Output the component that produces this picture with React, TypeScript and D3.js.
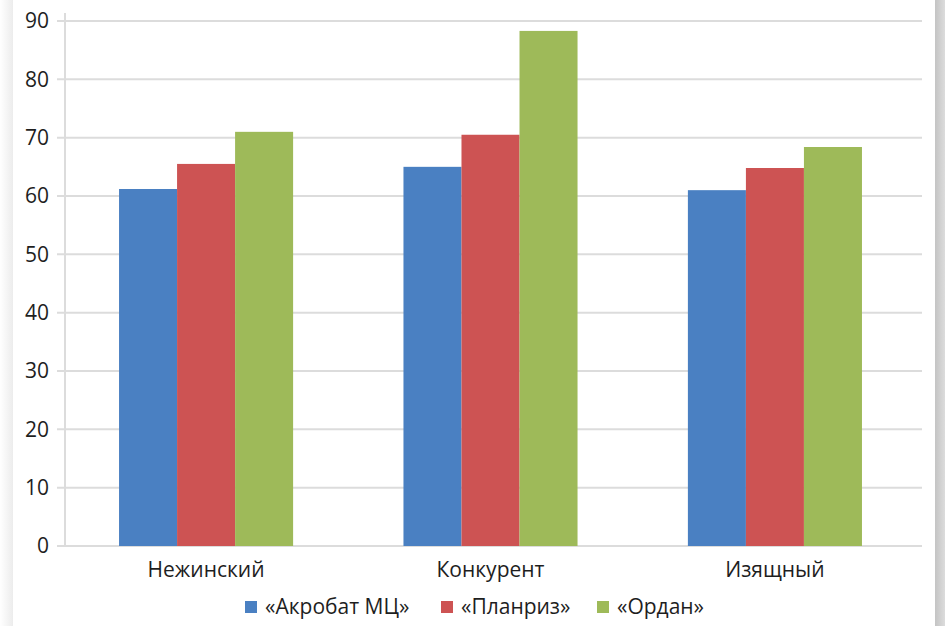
import { useRef, useEffect } from "react";
import * as d3 from "d3";

const categories = ["Нежинский", "Конкурент", "Изящный"];
const seriesNames = ["«Акробат МЦ»", "«Планриз»", "«Ордан»"];
const acrobat = [61.2, 65.0, 61.0];
const planriz = [65.5, 70.5, 64.8];
const ordan = [71.0, 88.3, 68.4];
const yTicks = [0, 10, 20, 30, 40, 50, 60, 70, 80, 90];
const colors = ["#4a80c2", "#cd5353", "#9eba59"];

const W = 945;
const H = 626;
const FONT = "'Open Sans', 'Noto Sans', sans-serif";

export default function App() {
  const svgRef = useRef<SVGSVGElement>(null);

  useEffect(() => {
    if (!svgRef.current) return;
    const svg = d3.select(svgRef.current);
    svg.selectAll("*").remove();

    const series = [acrobat, planriz, ordan];
    const margin = { top: 21, left: 65, right: 23, bottom: 80 };
    const plotW = W - margin.left - margin.right;
    const plotH = H - margin.top - margin.bottom;

    // side shadows
    const defs = svg.append("defs");
    const gl = defs.append("linearGradient").attr("id", "shL");
    gl.append("stop").attr("offset", "0%").attr("stop-color", "#ffffff");
    gl.append("stop").attr("offset", "100%").attr("stop-color", "#ececec");
    const gr = defs.append("linearGradient").attr("id", "shR");
    gr.append("stop").attr("offset", "0%").attr("stop-color", "#c4c4c4");
    gr.append("stop").attr("offset", "100%").attr("stop-color", "#dcdcdc");
    svg.append("rect").attr("x", 0).attr("y", 0).attr("width", W).attr("height", H).attr("fill", "#fff");
    svg.append("rect").attr("x", 0).attr("y", 0).attr("width", 13).attr("height", H).attr("fill", "url(#shL)");
    svg.append("rect").attr("x", 935).attr("y", 0).attr("width", 10).attr("height", H).attr("fill", "url(#shR)");

    const x0 = d3.scaleBand<string>().domain(categories).range([0, 851]).paddingInner(0.388).paddingOuter(0.19);
    const x1 = d3.scaleBand<number>().domain([0, 1, 2]).range([0, x0.bandwidth()]);
    const y = d3.scaleLinear().domain([0, 90]).range([plotH, 0]);

    const chart = svg.append("g").attr("transform", `translate(${margin.left},${margin.top})`);

    // gridlines
    chart
      .selectAll("line.grid")
      .data(yTicks)
      .enter()
      .append("line")
      .attr("x1", -8)
      .attr("x2", plotW)
      .attr("y1", (d) => y(d))
      .attr("y2", (d) => y(d))
      .attr("stroke", "#dcdcdc")
      .attr("stroke-width", 2);

    // y axis line
    chart
      .append("line")
      .attr("x1", 0)
      .attr("x2", 0)
      .attr("y1", -8)
      .attr("y2", plotH)
      .attr("stroke", "#dcdcdc")
      .attr("stroke-width", 2);

    // tick labels
    chart
      .selectAll("text.yt")
      .data(yTicks)
      .enter()
      .append("text")
      .attr("x", -16)
      .attr("y", (d) => y(d))
      .attr("dy", "0.35em")
      .attr("text-anchor", "end")
      .attr("font-family", FONT)
      .attr("font-size", 21)
      .attr("fill", "#1e1e1e")
      .text((d) => d);

    // bars
    const groups = chart
      .selectAll("g.cat")
      .data(categories)
      .enter()
      .append("g")
      .attr("transform", (d) => `translate(${x0(d)},0)`);

    groups
      .selectAll("rect")
      .data((_, i) => series.map((s, k) => ({ k, v: s[i] })))
      .enter()
      .append("rect")
      .attr("x", (d) => x1(d.k) as number)
      .attr("y", (d) => y(d.v))
      .attr("width", x1.bandwidth())
      .attr("height", (d) => plotH - y(d.v))
      .attr("fill", (d) => colors[d.k]);

    // category labels
    chart
      .selectAll("text.cat")
      .data(categories)
      .enter()
      .append("text")
      .attr("x", (d) => (x0(d) as number) + x0.bandwidth() / 2)
      .attr("y", plotH + 31)
      .attr("text-anchor", "middle")
      .attr("font-family", FONT)
      .attr("font-size", 21)
      .attr("fill", "#1e1e1e")
      .text((d) => d);

    // legend
    const legendX = [245, 441, 597];
    const leg = svg
      .selectAll("g.leg")
      .data(seriesNames)
      .enter()
      .append("g")
      .attr("transform", (_, i) => `translate(${legendX[i]},601)`);
    leg.append("rect").attr("width", 12).attr("height", 12).attr("fill", (_, i) => colors[i]);
    leg
      .append("text")
      .attr("x", 20)
      .attr("y", 6)
      .attr("dy", "0.35em")
      .attr("font-family", FONT)
      .attr("font-size", 21)
      .attr("fill", "#1e1e1e")
      .text((d) => d);
  }, []);

  return (
    <div style={{ position: "absolute", left: 0, top: 0 }}>
      <svg ref={svgRef} width={W} height={H} viewBox={`0 0 ${W} ${H}`} style={{ display: "block" }} />
    </div>
  );
}
